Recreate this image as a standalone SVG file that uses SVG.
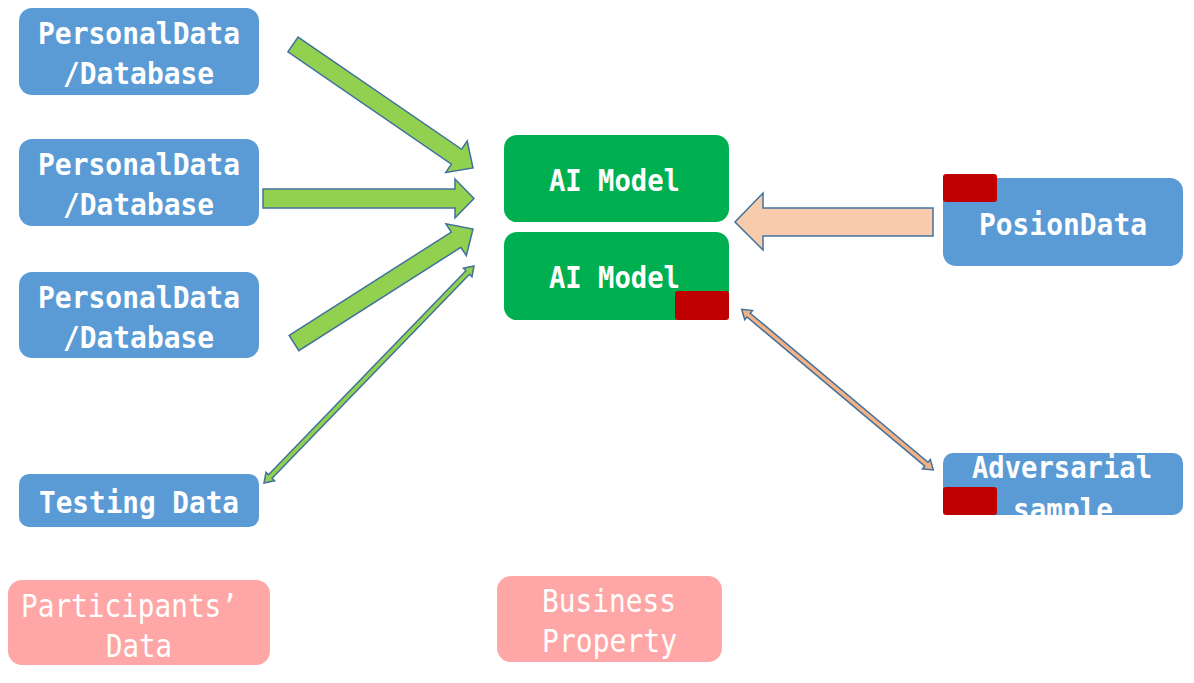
<svg xmlns="http://www.w3.org/2000/svg" width="1194" height="683" viewBox="0 0 1194 683">
<style>
.blue{fill:#5B9BD5}
.green{fill:#00B050}
.red{fill:#C00000}
.pink{fill:#FFA7A7}
.t{font-family:"DejaVu Sans Mono","Liberation Mono",monospace;font-weight:bold;font-size:30px;fill:#FFFFFF}
.tp{font-family:"DejaVu Sans Mono","Liberation Mono",monospace;font-size:32px;fill:#FFFFFF}
.ga{fill:#92D050;stroke:#41719C;stroke-width:1.5;stroke-linejoin:miter}
.pa{fill:#F8CBAD;stroke:#41719C;stroke-width:1.5}
.oa{fill:#F4B183;stroke:#41719C;stroke-width:1.5}
</style>
<defs>
<clipPath id="advClip"><rect x="943" y="453" width="240" height="62" rx="10"/></clipPath>
</defs>

<g id="personal1">
<rect class="blue" x="19" y="8" width="240" height="87" rx="13"/>
<text class="t" x="38" y="44" textLength="202" lengthAdjust="spacingAndGlyphs">PersonalData</text>
<text class="t" x="63" y="84" textLength="151" lengthAdjust="spacingAndGlyphs">/Database</text>
</g>
<g id="personal2">
<rect class="blue" x="19" y="139" width="240" height="87" rx="13"/>
<text class="t" x="38" y="175" textLength="202" lengthAdjust="spacingAndGlyphs">PersonalData</text>
<text class="t" x="63" y="215" textLength="151" lengthAdjust="spacingAndGlyphs">/Database</text>
</g>
<g id="personal3">
<rect class="blue" x="19" y="272" width="240" height="86" rx="13"/>
<text class="t" x="38" y="308" textLength="202" lengthAdjust="spacingAndGlyphs">PersonalData</text>
<text class="t" x="63" y="348" textLength="151" lengthAdjust="spacingAndGlyphs">/Database</text>
</g>
<g id="testing">
<rect class="blue" x="19" y="474" width="240" height="53" rx="10"/>
<text class="t" x="39" y="513" textLength="200" lengthAdjust="spacingAndGlyphs">Testing Data</text>
</g>

<g id="aimodel1">
<rect class="green" x="504" y="135" width="225" height="87" rx="13"/>
<text class="t" x="549" y="191" textLength="131" lengthAdjust="spacingAndGlyphs">AI Model</text>
</g>
<g id="aimodel2">
<rect class="green" x="504" y="232" width="225" height="88" rx="13"/>
<text class="t" x="549" y="288" textLength="131" lengthAdjust="spacingAndGlyphs">AI Model</text>
<rect class="red" x="675" y="291" width="54" height="29" rx="3"/>
</g>

<g id="poison">
<rect class="blue" x="943" y="178" width="240" height="88" rx="13"/>
<rect class="red" x="943" y="174" width="54" height="28" rx="3"/>
<text class="t" x="979" y="235" textLength="168" lengthAdjust="spacingAndGlyphs">PosionData</text>
</g>

<g id="adversarial">
<rect class="blue" x="943" y="453" width="240" height="62" rx="10"/>
<g clip-path="url(#advClip)">
<text class="t" x="972" y="478" textLength="180" lengthAdjust="spacingAndGlyphs">Adversarial</text>
<text class="t" x="1013" y="520" textLength="100" lengthAdjust="spacingAndGlyphs">sample</text>
</g>
<rect class="red" x="943" y="487" width="54" height="28" rx="3"/>
</g>

<g id="participants">
<rect class="pink" x="8" y="580" width="262" height="85" rx="14"/>
<text class="tp" x="21" y="617" textLength="217" lengthAdjust="spacingAndGlyphs">Participants’</text>
<text class="tp" x="106" y="657" textLength="66" lengthAdjust="spacingAndGlyphs">Data</text>
</g>
<g id="business">
<rect class="pink" x="497" y="576" width="225" height="86" rx="14"/>
<text class="tp" x="542" y="612" textLength="134" lengthAdjust="spacingAndGlyphs">Business</text>
<text class="tp" x="542" y="652" textLength="135" lengthAdjust="spacingAndGlyphs">Property</text>
</g>

<g id="connectors">
<polygon class="ga" points="298.1,37.1 461.6,149.3 467.2,141.0 473,168 445.8,172.4 451.4,164.1 287.9,51.9"/>
<polygon class="ga" points="263,189 455,189 455,179 474,198.5 455,218 455,208 263,208"/>
<polygon class="ga" points="289.2,335.4 451.3,232.1 445.9,223.7 473,229 466.3,255.7 460.9,247.3 298.8,350.6"/>
<polygon class="ga" points="264,483 274.6,480.7 272.1,478.2 469.5,274.2 472.0,276.7 474,266 463.4,268.3 465.9,270.8 268.5,474.8 266.0,472.3"/>
<polygon class="pa" points="933,208 763,208 763,193 735,222 763,250 763,236 933,236"/>
<polygon class="oa" points="741.7,309.3 744.7,319.7 747.0,317.0 924.8,466.1 922.5,468.8 933.3,470 930.3,459.6 928.0,462.3 750.2,313.2 752.5,310.5"/>
</g>
</svg>
